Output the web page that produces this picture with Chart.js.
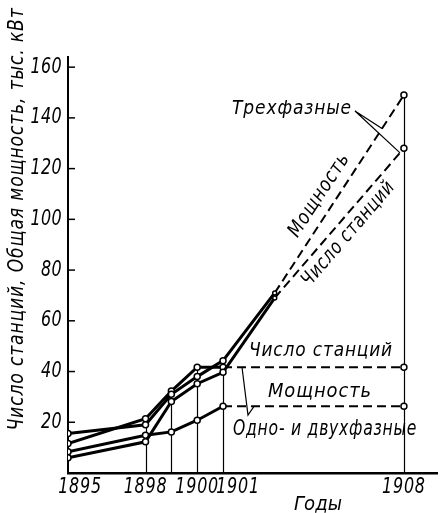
<!DOCTYPE html>
<html lang="ru">
  <head>
    <meta charset="UTF-8" />
    <title>Число станций и мощность</title>
    <style>
      * {
        border: none;
        padding: 0px;
        margin: 0px;
        box-sizing: border-box;
      }
      body { background: #fff; }
    </style>
  </head>
  <body>
    <canvas id="grafico" width="443" height="513"></canvas>

    <script src="https://cdn.jsdelivr.net/npm/chart.js"></script>
    <script>
      // годы и значения по рядам (тыс. кВт / число станций)
      const anos = [1895, 1898, 1899, 1900, 1901, 1903, 1908]
      const triPotencia = [15.6, 19.0, 31.0, 38.0, 44.3, 71, 149]
      const triEstacoes = [6.0, 12.3, 28.2, 35.2, 39.7, 69, 128]
      const monoEstacoes = [11.6, 21.4, 32.3, 41.7, 41.7, null, 41.7]
      const monoPotencia = [8.4, 14.9, 16.2, 20.8, 26.3, null, 26.3]

      const ticksY = [20, 40, 60, 80, 100, 120, 140, 160]
      const ticksX = [1895, 1898, 1900, 1901, 1908]
      const anosHastes = [1898, 1899, 1900, 1901, 1908]

      const FONTE = "'DejaVu Sans', sans-serif"

      const pontos = arr => anos.map((x, i) => ({ x: x, y: arr[i] })).filter(p => p.y !== null)

      const serie = (arr, tracejadoDe) => ({
        data: pontos(arr),
        borderColor: '#000',
        borderWidth: 3,
        pointRadius: c => (c.raw && c.raw.x === 1903) ? 2 : 3,
        pointBackgroundColor: '#fff',
        pointBorderColor: '#000',
        pointBorderWidth: 1.5,
        tension: 0,
        segment: {
          borderDash: c => c.p0.parsed.x >= tracejadoDe ? [9, 5] : undefined,
          borderWidth: c => c.p0.parsed.x >= tracejadoDe ? 2 : 3
        }
      })

      // texto estreito: comprime na horizontal até a largura pedida
      const texto = (ctx, s, cx, cy, o = {}) => {
        ctx.save()
        ctx.translate(cx, cy)
        ctx.rotate(o.ang || 0)
        ctx.font = 'italic ' + (o.tam || 20) + 'px ' + FONTE
        if ('letterSpacing' in ctx) ctx.letterSpacing = (o.esp || 0) + 'px'
        const w = ctx.measureText(s).width
        ctx.scale(o.larg ? o.larg / w : (o.esc || 0.78), 1)
        ctx.textAlign = o.alinhar || 'center'
        ctx.textBaseline = 'middle'
        ctx.fillText(s, 0, 0)
        ctx.restore()
      }

      // textos, setas e hastes verticais
      const anotacoes = {
        id: 'anotacoes',
        beforeDatasetsDraw(chart) {
          const { ctx, scales: { x, y } } = chart
          const todas = [triPotencia, triEstacoes, monoEstacoes, monoPotencia]
          ctx.save()
          ctx.strokeStyle = '#000'
          ctx.lineWidth = 1.2
          anosHastes.forEach(ano => {
            const i = anos.indexOf(ano)
            const topo = Math.max(...todas.map(a => a[i] ?? 0))
            const px = Math.round(x.getPixelForValue(ano)) + 0.5
            ctx.beginPath()
            ctx.moveTo(px, y.getPixelForValue(0))
            ctx.lineTo(px, y.getPixelForValue(topo))
            ctx.stroke()
          })
          ctx.restore()
        },
        afterDraw(chart) {
          const { ctx, scales: { x, y } } = chart
          const px = v => x.getPixelForValue(v)
          const py = v => y.getPixelForValue(v)
          ctx.save()
          ctx.fillStyle = '#000'
          ctx.strokeStyle = '#000'

          // eixo Y: marcas internas e números
          ctx.lineWidth = 1.5
          ticksY.forEach(v => {
            ctx.beginPath()
            ctx.moveTo(px(1895), py(v))
            ctx.lineTo(px(1895) + 7, py(v))
            ctx.stroke()
            texto(ctx, String(v), 62, py(v), { alinhar: 'right', esc: 0.76, esp: 0.5, tam: 21 })
          })

          // rótulos do eixo X
          const desloc = { 1895: 12, 1901: 15 }
          ticksX.forEach(ano => {
            texto(ctx, String(ano), px(ano) + (desloc[ano] || 0), 488, { esc: 0.76, esp: 1, tam: 21 })
          })
          texto(ctx, 'Годы', 318, 505, { larg: 48 })
          texto(ctx, 'Число станций, Общая мощность, тыс. кВт', 18, 219,
            { ang: -Math.PI / 2, larg: 423, esp: 1, tam: 21 })

          // trechos trifásicos 1903 -> 1908
          const i3 = anos.indexOf(1903), i8 = anos.indexOf(1908)
          const aoLongo = (arr, t, off, s, larg) => {
            const x0 = px(anos[i3]), y0 = py(arr[i3]), x1 = px(anos[i8]), y1 = py(arr[i8])
            const ang = Math.atan2(y1 - y0, x1 - x0)
            const cx = x0 + (x1 - x0) * t - Math.sin(ang) * off
            const cy = y0 + (y1 - y0) * t + Math.cos(ang) * off
            texto(ctx, s, cx, cy, { ang: ang, larg: larg, esp: 1 })
          }
          aoLongo(triPotencia, 0.45, -16, 'Мощность', 96)
          aoLongo(triEstacoes, 0.49, 14, 'Число станций', 132)

          // ponto de uma reta trifásica na abscissa de pixel dada
          const naLinha = (arr, xPix) => {
            const t = (xPix - px(anos[i3])) / (px(anos[i8]) - px(anos[i3]))
            return py(arr[i3] + (arr[i8] - arr[i3]) * t)
          }

          // "Трехфазные" com duas setas
          texto(ctx, 'Трехфазные', 292, 109, { larg: 120, esp: 1 })
          ctx.lineWidth = 1.2
          ctx.beginPath()
          ctx.moveTo(355, 111)
          ctx.lineTo(382, naLinha(triPotencia, 382))
          ctx.moveTo(355, 111)
          ctx.lineTo(400, naLinha(triEstacoes, 400))
          ctx.stroke()

          // monofásicas / bifásicas
          texto(ctx, 'Число станций', 321, 351, { larg: 144, esp: 1 })
          texto(ctx, 'Мощность', 320, 392, { larg: 104, esp: 1 })
          texto(ctx, 'Одно- и двухфазные', 325, 430, { larg: 184, esp: 1, tam: 21 })
          const i1 = anos.indexOf(1901)
          ctx.beginPath()
          ctx.moveTo(242, py(monoEstacoes[i1]))
          ctx.lineTo(248, 415)
          ctx.lineTo(254, py(monoPotencia[i1]))
          ctx.stroke()
          ctx.restore()
        }
      }

      const grafico = new Chart(document.getElementById('grafico'), {
        type: 'line',
        data: {
          datasets: [
            serie(triPotencia, 1903),
            serie(triEstacoes, 1903),
            serie(monoEstacoes, 1901),
            serie(monoPotencia, 1901)
          ]
        },
        options: {
          responsive: false,
          animation: false,
          devicePixelRatio: 1,
          layout: { padding: { top: 57, right: 3, left: 0, bottom: 0 } },
          plugins: { legend: { display: false }, tooltip: { enabled: false } },
          scales: {
            x: {
              type: 'linear',
              min: 1895,
              max: 1909.3,
              grid: { display: false },
              border: { display: true, color: '#000', width: 2.5 },
              ticks: { display: false },
              afterFit: s => { s.height = 40 }
            },
            y: {
              type: 'linear',
              min: 0,
              max: 164,
              grid: { display: false },
              border: { display: true, color: '#000', width: 2 },
              afterBuildTicks: s => { s.ticks = ticksY.map(v => ({ value: v })) },
              ticks: { display: false },
              afterFit: s => { s.width = 68 }
            }
          }
        },
        plugins: [anotacoes]
      })
    </script>
  </body>
</html>
